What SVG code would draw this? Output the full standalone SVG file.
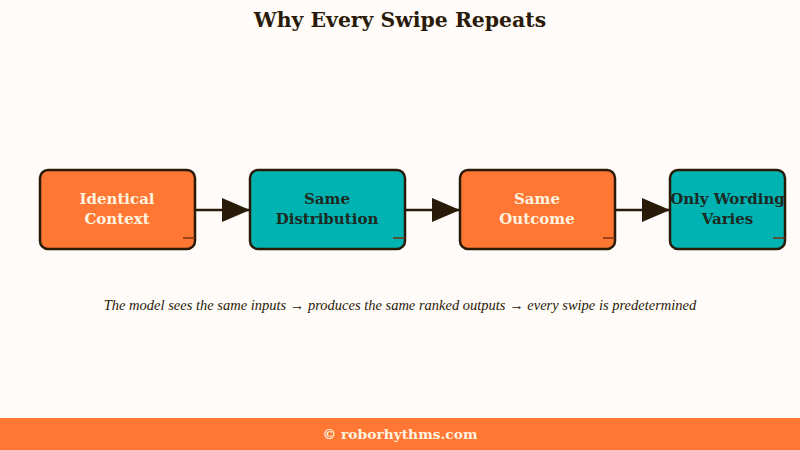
<svg xmlns="http://www.w3.org/2000/svg" width="800" height="450" viewBox="0 0 800 450">
<defs>
<marker id="ah" viewBox="0 0 28 24" refX="28" refY="12" markerWidth="28" markerHeight="24" markerUnits="userSpaceOnUse" orient="auto">
<path d="M0,0 L28,12 L0,24 Z" fill="#2a1a08"/>
</marker>
</defs>
<style>
.box{stroke:#2a1a08;stroke-width:2.5}
.o{fill:#ff7733}
.t{fill:#00b3b3}
.lbl{font-family:"DejaVu Serif","Liberation Serif",serif;font-weight:bold;font-size:15px;text-anchor:middle}
.lo{fill:#fff3e0}
.lt{fill:#1c2a22}
.conn{stroke:#2a1a08;stroke-width:2.5;fill:none}
.handle{stroke:#7a3010;stroke-width:1.5}
</style>
<rect width="800" height="450" fill="#fffbf8"/>
<text x="400" y="27" font-family="DejaVu Serif, serif" font-weight="bold" font-size="20.4" text-anchor="middle" fill="#2a1a08">Why Every Swipe Repeats</text>
<g id="connectors">
<line class="conn" x1="196" y1="210" x2="250" y2="210" marker-end="url(#ah)"/>
<line class="conn" x1="406" y1="210" x2="460" y2="210" marker-end="url(#ah)"/>
<line class="conn" x1="616" y1="210" x2="670" y2="210" marker-end="url(#ah)"/>
</g>
<g id="n1">
<rect class="box o" x="40" y="170" width="155" height="79" rx="8"/>
<line class="handle" x1="183" y1="238" x2="195" y2="238"/>
<text class="lbl lo" x="117" y="204">Identical</text>
<text class="lbl lo" x="117" y="224">Context</text>
</g>
<g id="n2">
<rect class="box t" x="250" y="170" width="155" height="79" rx="8"/>
<line class="handle" x1="393" y1="238" x2="405" y2="238" stroke="#0a4040"/>
<text class="lbl lt" x="327" y="204">Same</text>
<text class="lbl lt" x="327" y="224">Distribution</text>
</g>
<g id="n3">
<rect class="box o" x="460" y="170" width="155" height="79" rx="8"/>
<line class="handle" x1="603" y1="238" x2="615" y2="238"/>
<text class="lbl lo" x="537" y="204">Same</text>
<text class="lbl lo" x="537" y="224">Outcome</text>
</g>
<g id="n4">
<rect class="box t" x="670" y="170" width="115" height="79" rx="8"/>
<line class="handle" x1="773" y1="238" x2="785" y2="238" stroke="#0a4040"/>
<text class="lbl lt" x="727.5" y="204" font-size="14.4">Only Wording</text>
<text class="lbl lt" x="727.5" y="224">Varies</text>
</g>
<text x="400" y="310" font-family="Liberation Serif, serif" font-style="italic" font-size="14.5" text-anchor="middle" fill="#2a1a08">The model sees the same inputs → produces the same ranked outputs → every swipe is predetermined</text>
<rect x="0" y="418" width="800" height="32" fill="#ff7733"/>
<text x="400" y="439" font-family="DejaVu Serif, serif" font-weight="bold" font-size="13.8" text-anchor="middle" fill="#fff3e0">© roborhythms.com</text>
</svg>
